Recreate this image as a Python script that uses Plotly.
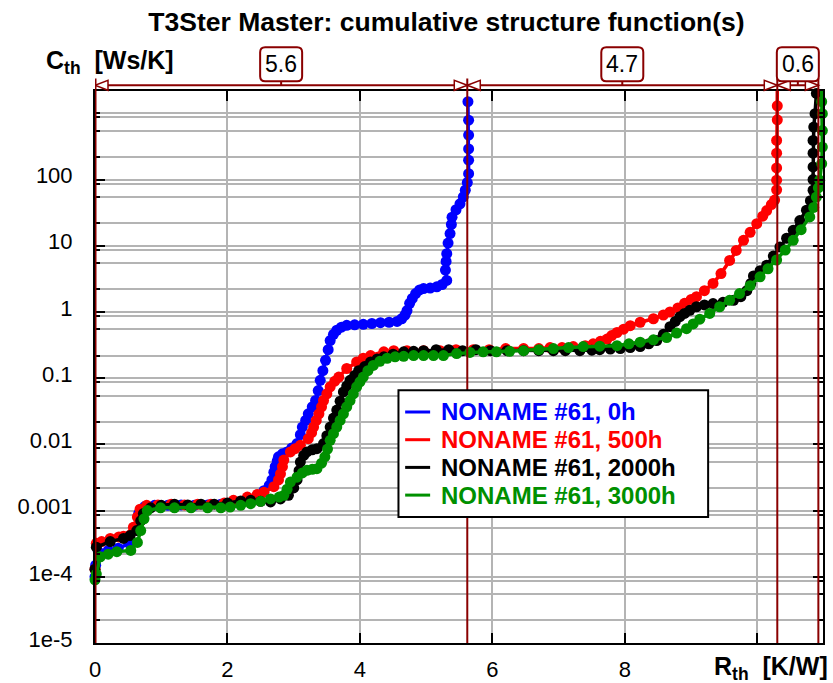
import plotly.graph_objects as go

# ---------------- data: cumulative structure functions ----------------
# Rth in K/W, Cth in Ws/K
rth_0h = [0.00, 0.01, 0.05, 0.20, 0.35, 0.52, 0.60, 0.66, 0.75, 0.90, 1.10, 1.30, 1.50, 1.70, 1.90,
          2.10, 2.30, 2.45, 2.55, 2.63, 2.67, 2.70, 2.72, 2.75, 2.77, 2.83, 2.90, 2.97, 3.05, 3.10,
          3.13, 3.18, 3.22, 3.28, 3.33, 3.37, 3.40, 3.44, 3.48, 3.52, 3.55, 3.60, 3.65, 3.72, 3.80,
          3.92, 4.05, 4.18, 4.31, 4.44, 4.56, 4.63, 4.68, 4.71, 4.75, 4.79, 4.84, 4.90, 4.96, 5.06,
          5.16, 5.24, 5.31, 5.29, 5.30, 5.31, 5.33, 5.36, 5.38, 5.39, 5.45, 5.51, 5.56, 5.59, 5.62,
          5.64, 5.64, 5.64, 5.64, 5.64, 5.63]
cth_0h = [1.0e-4, 1.5e-4, 2.4e-4, 2.5e-4, 2.7e-4, 3.2e-4, 5.6e-4, 9.0e-4, 1.15e-3, 1.2e-3, 1.2e-3,
          1.22e-3, 1.2e-3, 1.22e-3, 1.25e-3, 1.35e-3, 1.5e-3, 1.7e-3, 2.0e-3, 2.4e-3, 2.9e-3, 3.8e-3,
          4.6e-3, 5.6e-3, 6.5e-3, 7.2e-3, 7.7e-3, 8.8e-3, 1.03e-2, 1.4e-2, 1.83e-2, 2.3e-2, 2.9e-2,
          3.7e-2, 4.6e-2, 6.5e-2, 9.3e-2, 0.13, 0.186, 0.27, 0.37, 0.46, 0.53, 0.59, 0.63, 0.64, 0.65,
          0.67, 0.69, 0.70, 0.72, 0.79, 0.90, 1.05, 1.35, 1.6, 1.9, 2.15, 2.26, 2.3, 2.4, 2.6, 3.0, 4.3,
          5.8, 7.6, 11, 15.3, 21, 27, 35, 43, 55, 69, 90, 123, 196, 290, 470, 790, 1500]

rth_500h = [0.00, 0.02, 0.10, 0.23, 0.36, 0.43, 0.58, 0.64, 0.68, 0.78, 0.95, 1.15, 1.35, 1.55, 1.75,
            1.95, 2.09, 2.30, 2.45, 2.55, 2.70, 2.77, 2.80, 2.83, 2.85, 2.95, 3.02, 3.10, 3.22, 3.27,
            3.30, 3.34, 3.38, 3.42, 3.45, 3.50, 3.55, 3.62, 3.68, 3.80, 3.95, 4.05, 4.16, 4.36, 4.51,
            4.71, 4.96, 5.21, 5.45, 5.71, 5.95, 6.20, 6.47, 6.70, 6.87, 7.05, 7.22, 7.40, 7.52, 7.63,
            7.73, 7.80, 7.88, 7.98, 8.08, 8.23, 8.43, 8.58, 8.68, 8.80, 8.90, 9.00, 9.08, 9.20, 9.33,
            9.45, 9.58, 9.68, 9.79, 9.89, 9.99, 10.08, 10.14, 10.21, 10.26, 10.29, 10.29, 10.29,
            10.29, 10.29, 10.30, 10.30, 10.30]
cth_500h = [1.3e-4, 3.2e-4, 3.4e-4, 3.8e-4, 4.0e-4, 4.1e-4, 5.6e-4, 8.0e-4, 1.05e-3, 1.2e-3, 1.22e-3,
            1.25e-3, 1.22e-3, 1.25e-3, 1.25e-3, 1.3e-3, 1.43e-3, 1.6e-3, 1.75e-3, 1.9e-3, 2.3e-3,
            2.9e-3, 3.6e-3, 4.6e-3, 5.8e-3, 7.7e-3, 8.6e-3, 9.7e-3, 1.22e-2, 1.5e-2, 1.83e-2, 2.3e-2,
            2.9e-2, 3.7e-2, 4.6e-2, 5.8e-2, 7.4e-2, 0.09, 0.104, 0.14, 0.176, 0.2, 0.22, 0.25, 0.26,
            0.26, 0.26, 0.26, 0.27, 0.27, 0.27, 0.28, 0.28, 0.28, 0.29, 0.29, 0.30, 0.31, 0.33, 0.36,
            0.39, 0.44, 0.49, 0.55, 0.62, 0.70, 0.79, 0.90, 1.0, 1.15, 1.35, 1.55, 1.7, 2.1, 2.7, 3.8,
            6.0, 8.5, 12.1, 16, 21.6, 28, 34, 42, 49, 70, 98, 150, 250, 390, 800, 1300, 2200]

rth_2000h = [0.00, 0.02, 0.23, 0.43, 0.53, 0.63, 0.69, 0.73, 0.84, 1.00, 1.20, 1.40, 1.60, 1.80, 2.00,
             2.20, 2.35, 2.50, 2.65, 2.80, 2.92, 3.00, 3.05, 3.08, 3.10, 3.15, 3.20, 3.28, 3.35, 3.45,
             3.50, 3.55, 3.60, 3.65, 3.70, 3.75, 3.80, 3.85, 3.92, 3.98, 4.07, 4.16, 4.26, 4.36, 4.50,
             4.66, 4.81, 4.96, 5.15, 5.34, 5.55, 5.75, 5.97, 6.22, 6.47, 6.70, 6.92, 7.10, 7.32, 7.50,
             7.62, 7.78, 7.93, 8.08, 8.23, 8.36, 8.48, 8.58, 8.68, 8.76, 8.83, 8.90, 8.98, 9.08, 9.20,
             9.33, 9.48, 9.64, 9.75, 9.84, 9.90, 9.94, 10.04, 10.14, 10.24, 10.34, 10.44, 10.54, 10.64,
             10.74, 10.80, 10.84, 10.84, 10.84, 10.84, 10.84, 10.85, 10.87, 10.89]
cth_2000h = [1.3e-4, 2.8e-4, 3.4e-4, 3.8e-4, 4.2e-4, 5.0e-4, 7.0e-4, 9.0e-4, 1.1e-3, 1.2e-3, 1.25e-3,
             1.22e-3, 1.25e-3, 1.25e-3, 1.3e-3, 1.4e-3, 1.43e-3, 1.38e-3, 1.35e-3, 1.5e-3, 1.7e-3,
             2.2e-3, 2.9e-3, 4.0e-3, 5.4e-3, 6.8e-3, 7.7e-3, 8.3e-3, 8.6e-3, 1.03e-2, 1.35e-2, 1.83e-2,
             2.5e-2, 3.3e-2, 4.5e-2, 6.2e-2, 7.6e-2, 9.3e-2, 0.11, 0.13, 0.15, 0.176, 0.195, 0.21, 0.23,
             0.25, 0.255, 0.26, 0.27, 0.27, 0.26, 0.27, 0.26, 0.26, 0.26, 0.26, 0.26, 0.26, 0.26, 0.265,
             0.27, 0.275, 0.28, 0.29, 0.30, 0.33, 0.37, 0.46, 0.60, 0.72, 0.85, 0.95, 1.06, 1.2, 1.28,
             1.34, 1.4, 1.5, 1.7, 2.1, 2.7, 3.5, 4.2, 5.1, 7.0, 9.6, 13, 17.1, 24, 34.5, 48, 69, 100,
             155, 250, 390, 620, 990, 2000]

rth_3000h = [0.00, 0.02, 0.08, 0.20, 0.33, 0.54, 0.64, 0.69, 0.74, 0.79, 0.99, 1.20, 1.45, 1.70, 1.90,
             2.04, 2.20, 2.35, 2.50, 2.65, 2.78, 2.85, 2.90, 2.95, 3.05, 3.13, 3.20, 3.28, 3.35, 3.42,
             3.47, 3.51, 3.55, 3.60, 3.65, 3.70, 3.75, 3.80, 3.85, 3.90, 3.95, 4.00, 4.05, 4.12, 4.20,
             4.30, 4.41, 4.53, 4.66, 4.81, 4.96, 5.11, 5.26, 5.46, 5.66, 5.86, 6.06, 6.26, 6.47, 6.70,
             6.92, 7.15, 7.37, 7.62, 7.88, 8.06, 8.23, 8.43, 8.63, 8.78, 8.93, 9.03, 9.13, 9.28, 9.43,
             9.58, 9.73, 9.89, 10.04, 10.16, 10.29, 10.42, 10.54, 10.66, 10.79, 10.85, 10.89, 10.92,
             10.94, 10.97, 10.98, 10.98, 10.98, 10.97, 10.97]
cth_3000h = [9.0e-5, 1.1e-4, 2.0e-4, 2.2e-4, 2.4e-4, 2.5e-4, 3.3e-4, 5.0e-4, 7.5e-4, 1.0e-3, 1.1e-3,
             1.1e-3, 1.1e-3, 1.1e-3, 1.1e-3, 1.13e-3, 1.2e-3, 1.27e-3, 1.38e-3, 1.5e-3, 1.6e-3, 1.7e-3,
             2.1e-3, 2.7e-3, 3.2e-3, 3.7e-3, 4.06e-3, 4.2e-3, 4.3e-3, 5.2e-3, 6.5e-3, 8.5e-3, 1.15e-2,
             1.45e-2, 1.83e-2, 2.3e-2, 2.9e-2, 3.7e-2, 4.6e-2, 5.8e-2, 7.4e-2, 0.088, 0.104, 0.13,
             0.156, 0.18, 0.20, 0.21, 0.214, 0.22, 0.22, 0.22, 0.22, 0.235, 0.245, 0.25, 0.25, 0.255,
             0.26, 0.27, 0.28, 0.29, 0.30, 0.305, 0.31, 0.33, 0.35, 0.38, 0.41, 0.48, 0.56, 0.66, 0.78,
             0.95, 1.2, 1.5, 1.9, 2.5, 3.4, 4.5, 6.1, 8.6, 12.1, 17.5, 27.3, 38, 54.5, 75, 98, 174, 310,
             550, 990, 1500, 2200]

series_names = ["NONAME #61, 0h", "NONAME #61, 500h", "NONAME #61, 2000h", "NONAME #61, 3000h"]
series_colors = ["#0000ff", "#ff0000", "#000000", "#009000"]
series_rth = [rth_0h, rth_500h, rth_2000h, rth_3000h]
series_cth = [cth_0h, cth_500h, cth_2000h, cth_3000h]

# cursor positions on the Rth axis (K/W)
cursor_rth = [0.0, 5.62, 10.30, 10.92]

# axis ticks (labelled ones, plus unlabelled grid positions)
x_tick_vals = [0, 2, 4, 6, 8]
x_tick_text = ["0", "2", "4", "6", "8"]
x_unlabelled_vals = [10]
y_tick_vals = [1e-5, 1e-4, 1e-3, 1e-2, 1e-1, 1, 10, 100]
y_tick_text = ["1e-5", "1e-4", "0.001", "0.01", "0.1", "1", "10", "100"]
y_unlabelled_vals = [1000]
y_minor_factors = [0.87, 2.2, 5.45]

# ---------------- styling ----------------
FONT = "Arial, 'Liberation Sans', sans-serif"
MAROON = "#8a0000"
GRID = "#b4b4b4"
W, H = 833, 683
M_L, M_R, M_T, M_B = 94.5, 9.7, 90.7, 40.3
plot_w = W - M_L - M_R
plot_h = H - M_T - M_B
Y_LOG_RANGE = [-5, 3.338]
X_RANGE = [0, 10.99]


def px_x(px):
    """page pixel column -> paper x"""
    return (px - M_L) / plot_w


def px_y(py):
    """page pixel row -> paper y"""
    return (H - M_B - py) / plot_h


y_minor_vals = list(y_unlabelled_vals)
for k in range(-6, 4):
    for f in y_minor_factors:
        v = f * 10 ** k
        if 10 ** Y_LOG_RANGE[0] < v < 10 ** Y_LOG_RANGE[1]:
            y_minor_vals.append(v)

fig = go.Figure()

for name, color, xs, ys in zip(series_names, series_colors, series_rth, series_cth):
    fig.add_trace(go.Scatter(
        x=xs, y=ys, mode="lines+markers", name=name, showlegend=False,
        line=dict(color=color, width=3.5),
        marker=dict(color=color, size=11, line=dict(width=0)),
        cliponaxis=False,
    ))

shapes = []
annotations = []

# vertical cursor lines
cursor_top = 1 + 12.5 / plot_h
for i, cx in enumerate(cursor_rth):
    shapes.append(dict(type="line", xref="x", yref="paper", x0=cx, x1=cx, y0=0, y1=cursor_top,
                       line=dict(color=MAROON, width=3 if i == 0 else 2), layer="above"))

# dimension line with open arrowheads and value boxes
dim_y = 1 + 5.7 / plot_h
shapes.append(dict(type="line", xref="x", yref="paper", x0=cursor_rth[0], x1=cursor_rth[-1],
                   y0=dim_y, y1=dim_y, line=dict(color=MAROON, width=2), layer="above"))

tri_left = "M0,0 L13,5 L13,-5 Z"
tri_right = "M0,0 L-13,5 L-13,-5 Z"
box_path = ("M-16,4 L16,4 Q21,4 21,9 L21,33 Q21,38 16,38 L-16,38 "
            "Q-21,38 -21,33 L-21,9 Q-21,4 -16,4 Z")

for a, b in zip(cursor_rth[:-1], cursor_rth[1:]):
    for anchor, path in ((a, tri_left), (b, tri_right)):
        shapes.append(dict(type="path", xref="x", yref="paper", xsizemode="pixel", ysizemode="pixel",
                           xanchor=anchor, yanchor=dim_y, path=path, fillcolor="white",
                           line=dict(color=MAROON, width=1.5), layer="above"))
    mid = (a + b) / 2
    shapes.append(dict(type="path", xref="x", yref="paper", xsizemode="pixel", ysizemode="pixel",
                       xanchor=mid, yanchor=dim_y, path="M0,0 L0,4",
                       line=dict(color=MAROON, width=2), layer="above"))
    shapes.append(dict(type="path", xref="x", yref="paper", xsizemode="pixel", ysizemode="pixel",
                       xanchor=mid, yanchor=dim_y, path=box_path, fillcolor="white",
                       line=dict(color=MAROON, width=2), layer="above"))
    annotations.append(dict(x=mid, xref="x", y=dim_y, yref="paper", yshift=21, text=f"{b - a:.1f}",
                            showarrow=False, xanchor="center", yanchor="middle",
                            font=dict(family=FONT, size=23, color="black")))

# legend box: framed list of line samples and coloured labels
LEG_LEFT, LEG_RIGHT, LEG_TOP, LEG_BOTTOM = 398.3, 708.3, 390.0, 516.7
LEG_ROW0, LEG_ROW_STEP = 411.7, 27.7
shapes.append(dict(type="rect", xref="paper", yref="paper",
                   x0=px_x(LEG_LEFT), x1=px_x(LEG_RIGHT), y0=px_y(LEG_BOTTOM), y1=px_y(LEG_TOP),
                   fillcolor="white", line=dict(color="black", width=2), layer="above"))
for i, (name, color) in enumerate(zip(series_names, series_colors)):
    row_y = px_y(LEG_ROW0 + i * LEG_ROW_STEP)
    shapes.append(dict(type="line", xref="paper", yref="paper", x0=px_x(405), x1=px_x(430),
                       y0=row_y, y1=row_y, line=dict(color=color, width=3), layer="above"))
    annotations.append(dict(x=px_x(439), xref="paper", y=row_y, yref="paper", xanchor="left",
                            yanchor="middle", showarrow=False, text=f"<b>{name}</b>",
                            font=dict(family=FONT, size=24, color=color)))

# axis titles
annotations.append(dict(x=px_x(43), xref="paper", y=px_y(62), yref="paper",
                        xanchor="left", yanchor="middle", showarrow=False,
                        text="<b>C<sub>th</sub>&nbsp;&nbsp;[Ws/K]</b>",
                        font=dict(family=FONT, size=25, color="black")))
annotations.append(dict(x=px_x(830), xref="paper", y=px_y(667.5), yref="paper",
                        xanchor="right", yanchor="middle", showarrow=False,
                        text="<b>R<sub>th</sub>&nbsp;&nbsp;[K/W]</b>",
                        font=dict(family=FONT, size=25, color="black")))

fig.update_layout(
    width=W, height=H,
    margin=dict(l=M_L, r=M_R, t=M_T, b=M_B, pad=0, autoexpand=False),
    paper_bgcolor="white", plot_bgcolor="white",
    font=dict(family=FONT, size=22, color="black"),
    title=dict(text="<b>T3Ster Master: cumulative structure function(s)</b>",
               x=446.5 / W, xref="container", xanchor="center",
               y=1 - 22 / H, yref="container", yanchor="middle",
               font=dict(family=FONT, size=26.5, color="black")),
    showlegend=False,
    shapes=shapes,
    annotations=annotations,
)

fig.update_xaxes(
    range=X_RANGE, tickmode="array", tickvals=x_tick_vals, ticktext=x_tick_text,
    showgrid=True, gridcolor=GRID, gridwidth=2, zeroline=False, automargin=False,
    showline=True, linecolor="black", linewidth=2, mirror="allticks",
    ticks="inside", ticklen=10, tickwidth=2, tickcolor="black", ticklabelstandoff=6,
    tickfont=dict(family=FONT, size=22, color="black"),
    minor=dict(tickmode="array", tickvals=x_unlabelled_vals, showgrid=True, gridcolor=GRID,
               gridwidth=2, ticks="inside", ticklen=10, tickwidth=2, tickcolor="black"),
)
fig.update_yaxes(
    type="log", range=Y_LOG_RANGE, tickmode="array", tickvals=y_tick_vals, ticktext=y_tick_text,
    showgrid=True, gridcolor=GRID, gridwidth=2, zeroline=False, automargin=False,
    showline=True, linecolor="black", linewidth=2, mirror="allticks",
    ticks="inside", ticklen=10, tickwidth=2, tickcolor="black", ticklabelstandoff=16,
    ticklabelshift=-4,
    tickfont=dict(family=FONT, size=22, color="black"),
    minor=dict(tickmode="array", tickvals=y_minor_vals, showgrid=True, gridcolor=GRID, gridwidth=2,
               ticks="inside", ticklen=5, tickwidth=2, tickcolor="black"),
)

fig.write_html("out.html")
